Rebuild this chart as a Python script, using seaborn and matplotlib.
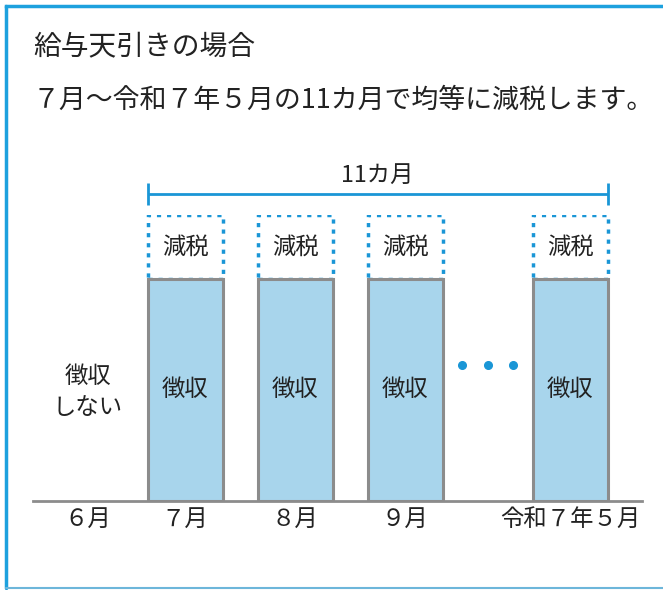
import matplotlib
matplotlib.use("Agg")
import matplotlib.pyplot as plt
import seaborn as sns
import pandas as pd
from matplotlib.lines import Line2D

# ---- data ----
months = ["６月", "７月", "８月", "９月", "令和７年５月"]
collected = [0, 3.5, 3.5, 3.5, 3.5]      # 徴収
reduction = [0, 1.0, 1.0, 1.0, 1.0]      # 減税
title = "給与天引きの場合"
subtitle = "７月～令和７年５月の11カ月で均等に減税します。"
bar_label = "徴収"
box_label = "減税"
no_collect_label = "徴収\nしない"
span_label = "11カ月"

sns.set_theme(style="white")
plt.rcParams["font.family"] = ["Noto Sans CJK JP", "DejaVu Sans"]

TXT = "#222222"
BLUE = "#1a96d6"
FILL = "#a8d5ec"
EDGE = "#8c8c8c"
FS = 16.8

fig = plt.figure(figsize=(6.63, 5.90), dpi=100)
W, H = 663, 590
ax = fig.add_axes([33 / W, 1 - 501 / H, (642 - 33) / W, (501 - 215) / H])

# categorical slots (placeholders for spacing)
order = [months[0], " 1", months[1], " 2", months[2], " 3", months[3], " 4", " 5", months[4]]
bw = 75 / 55

df = pd.DataFrame({"month": months, "collected": collected, "reduction": reduction})
sub = df[df["reduction"] > 0]

sns.barplot(data=sub, x="month", y="reduction", order=order, bottom=sub["collected"].iloc[0],
            width=bw, color="white", saturation=1, edgecolor=BLUE,
            linestyle=(0, (1.2, 1.7)), linewidth=2.5, ax=ax, zorder=2)
sns.barplot(data=sub, x="month", y="collected", order=order, width=bw, color=FILL,
            saturation=1, edgecolor=EDGE, linewidth=2.2, ax=ax, zorder=3)

ax.set_xlim((33 - 75) / 55, (642 - 75) / 55)
ax.set_ylim(0, 4.5)
for s in ["top", "right", "left"]:
    ax.spines[s].set_visible(False)
ax.spines["bottom"].set_color(EDGE)
ax.spines["bottom"].set_linewidth(2)
ax.spines["bottom"].set_zorder(4)
ax.set_yticks([])
ax.set_xlabel("")
ax.set_ylabel("")

pos = {m: order.index(m) for m in months}
tick_pos = [pos[m] for m in months]
tick_pos[0] = (88 - 75) / 55
ax.set_xticks(tick_pos)
ax.set_xticklabels(months, fontsize=FS, color=TXT)
ax.tick_params(axis="x", length=0, pad=5)

# labels inside bars
for m, c, r in zip(months, collected, reduction):
    if c > 0:
        ax.text(pos[m], c / 2, bar_label, ha="center", va="center", fontsize=FS, color=TXT, zorder=5)
    if r > 0:
        ax.text(pos[m], c + r / 2, box_label, ha="center", va="center", fontsize=FS, color=TXT, zorder=5)
ax.text(tick_pos[0], 1.72, no_collect_label, ha="center", va="center", fontsize=FS,
        color=TXT, linespacing=1.45)

# ellipsis dots
mid = (pos["９月"] + pos["令和７年５月"]) / 2
ax.plot([mid - 0.46, mid, mid + 0.46], [2.14] * 3, "o", color=BLUE, markersize=5.5, clip_on=False)

# bracket for 11 months
x0 = pos["７月"] - bw / 2
x1 = pos["令和７年５月"] + bw / 2
yb = 4.83
ax.plot([x0, x1], [yb, yb], color=BLUE, lw=2, clip_on=False, solid_capstyle="butt")
for xx in (x0, x1):
    ax.plot([xx, xx], [yb - 0.17, yb + 0.17], color=BLUE, lw=2, clip_on=False, solid_capstyle="butt")
ax.text((x0 + x1) / 2, 5.13, span_label, ha="center", va="center", fontsize=FS, color=TXT)

# titles
fig.text(33 / W, 1 - 46 / H, title, ha="left", va="center", fontsize=20, color=TXT)
fig.text(33 / W, 1 - 100 / H, subtitle, ha="left", va="center", fontsize=19.4, color=TXT)

# frame
fig.add_artist(Line2D([5.5 / W, 5.5 / W], [1 - 5.5 / H, 1 - 588 / H], color="#1da1de", lw=2.5,
                      transform=fig.transFigure))
fig.add_artist(Line2D([5.5 / W, 1], [1 - 5.5 / H, 1 - 5.5 / H], color="#1da1de", lw=2.5,
                      transform=fig.transFigure, solid_capstyle="projecting"))
fig.add_artist(Line2D([5.5 / W, 1], [1 - 588 / H, 1 - 588 / H], color="#6db6da", lw=1.5,
                      transform=fig.transFigure))

fig.savefig("out.png", dpi=100)
